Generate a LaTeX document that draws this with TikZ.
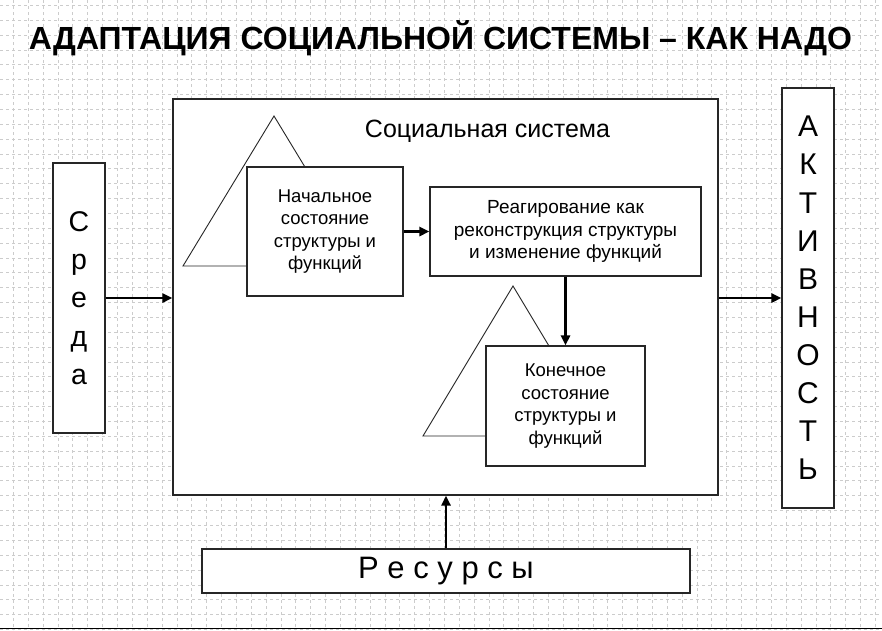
\documentclass[tikz,border=0pt]{standalone}
\usepackage{fontspec}
\setmainfont{Liberation Sans}
\usetikzlibrary{arrows.meta}
\begin{document}
\begin{tikzpicture}[x=1pt,y=-1pt,
  box/.style={draw=black!85, line width=1.1pt, fill=white, inner sep=0pt, align=center},
  arr/.style={line width=2.6pt, -{Triangle[length=10pt,width=9pt]}},
  tri/.style={draw=black!85, line width=0.9pt, fill=white},
  gridline/.style={gray!40, dashed, line width=0.5pt}]
\useasboundingbox (0,0) rectangle (882,630);
\fill[white] (0,0) rectangle (882,630);
\begin{scope}
\clip (0,0) rectangle (882,630);
\foreach \i in {0,...,59} \draw[gridline] ({13.3+14.86*\i},0) -- ++(0,630);
\foreach \j in {0,...,42} \draw[gridline] (0,{5.2+14.86*\j}) -- ++(882,0);
\end{scope}
\draw[black, line width=1.5pt] (0,628.5) -- (882,628.5);

\node[anchor=base, font=\fontsize{32}{36}\selectfont\bfseries] (title) at (440.5,49) {АДАПТАЦИЯ СОЦИАЛЬНОЙ СИСТЕМЫ – КАК НАДО};

\node[box, minimum width=545, minimum height=396] (sys) at (445.5,297) {};
\node[anchor=base, font=\fontsize{25}{28}\selectfont] (syslabel) at (487.5,137) {Социальная система};

\draw[tri] (183,266) -- (274,116) -- (365,266) -- cycle;
\draw[tri] (423,436) -- (513,286) -- (603,436) -- cycle;

\node[box, minimum width=156, minimum height=129, font=\fontsize{18.5}{22.5}\selectfont] (b1) at (325,231.5) {Начальное\\состояние\\структуры и\\функций};
\node[box, minimum width=271, minimum height=89, font=\fontsize{19}{22.5}\selectfont] (b2) at (565.5,231.5) {Реагирование как\\реконструкция структуры\\и изменение функций};
\node[box, minimum width=159, minimum height=120, font=\fontsize{18.5}{22.5}\selectfont] (b3) at (565.5,406) {Конечное\\состояние\\структуры и\\функций};

\node[box, minimum width=52, minimum height=270, font=\fontsize{28.5}{38.25}\selectfont] (env) at (79,298) {С\\р\\е\\д\\а};
\node[box, minimum width=52, minimum height=420, font=\fontsize{30}{38.1}\selectfont] (act) at (808,298) {А\\К\\Т\\И\\В\\Н\\О\\С\\Т\\Ь};
\node[box, minimum width=488, minimum height=44, font=\fontsize{31}{34}\selectfont] (res) at (446,571) {Р е с у р с ы};

\draw[arr] (b1.east) -- (b2.west);
\draw[arr] (b2.south) -- (b3.north);
\draw[arr] (env.east) -- (env.east -| sys.west);
\draw[arr] (sys.east |- act.west) -- (act.west);
\draw[arr] (res.north) -- (res.north |- sys.south);
\end{tikzpicture}
\end{document}
